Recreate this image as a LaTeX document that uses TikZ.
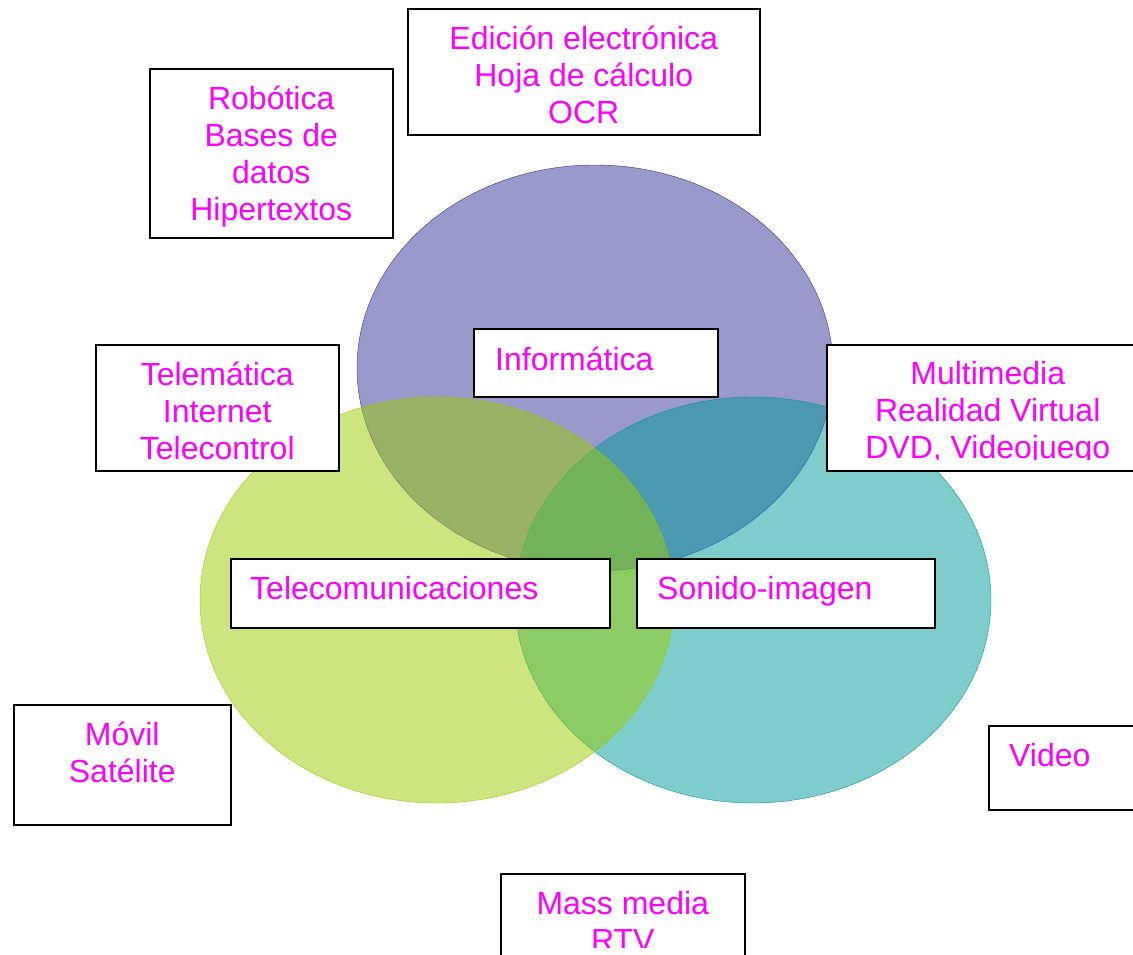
\documentclass[tikz,border=0pt]{standalone}
\usepackage{fontspec}
\setmainfont{Liberation Sans}
\usepackage{xcolor}
\definecolor{morado}{HTML}{333399}
\definecolor{verde}{HTML}{99CC00}
\definecolor{turquesa}{HTML}{009999}
\definecolor{rosa}{HTML}{FF00FF}
\tikzset{
	caja/.style = {draw = black, line width = 1.5pt, fill = white, anchor = north west, inner sep = 0pt},
	texto/.style = {text = rosa, font = \fontsize{32}{37}\selectfont, align = center, inner sep = 0pt, anchor = base},
	textoizq/.style = {texto, anchor = base west}
}

\begin{document}
\begin{tikzpicture}[x=1pt,y=-1pt]
	\useasboundingbox (0,0) rectangle (1133,954);
	\clip (0,0) rectangle (1133,954);
	\begin{scope}
	% los tres campos
	\draw [fill = morado, fill opacity = 0.5, draw = morado, thin] (595,368) ellipse (238 and 203);
	\draw [fill = turquesa, fill opacity = 0.5, draw = turquesa, thin] (753,600) ellipse (238 and 203);
	\draw [fill = verde, fill opacity = 0.5, draw = verde, thin] (437,600) ellipse (237 and 203);
	\end{scope}
	% cajas
	\node [caja, minimum width = 352pt, minimum height = 126pt] (edicion) at (407,8) {};
	\node [caja, minimum width = 243pt, minimum height = 169pt] (robotica) at (149,68) {};
	\node [caja, minimum width = 244pt, minimum height = 68pt] (informatica) at (473,328) {};
	\node [caja, minimum width = 243pt, minimum height = 126pt] (telematica) at (95,344) {};
	\node [caja, minimum width = 324pt, minimum height = 126pt] (multimedia) at (826,344) {};
	\node [caja, minimum width = 379pt, minimum height = 69pt] (telecom) at (230,558) {};
	\node [caja, minimum width = 298pt, minimum height = 69pt] (sonido) at (636,558) {};
	\node [caja, minimum width = 217pt, minimum height = 120pt] (movil) at (13,704) {};
	\node [caja, minimum width = 200pt, minimum height = 84pt] (video) at (988,725) {};
	\node [caja, minimum width = 244pt, minimum height = 85pt] (massmedia) at (500,873) {};
	% textos (base = linea de abajo)
	\node [texto] (tedicion) at ([yshift=-115pt]edicion.north) {Edición electrónica\\Hoja de cálculo\\OCR};
	\node [texto] (trobotica) at ([yshift=-152pt]robotica.north) {Robótica\\Bases de\\datos\\Hipertextos};
	\node [textoizq] (tinformatica) at ([xshift=22pt,yshift=-42pt]informatica.north west) {Informática};
	\node [texto] (ttelematica) at ([yshift=-115pt]telematica.north) {Telemática\\Internet\\Telecontrol};
	\begin{scope}
	\clip (multimedia.north west) rectangle ([yshift=12pt]multimedia.south east);
	\node [texto] (tmultimedia) at ([xshift=-1pt,yshift=-114pt]multimedia.north) {Multimedia\\Realidad Virtual\\DVD, Videojuego};
	\end{scope}
	\node [textoizq] (ttelecom) at ([xshift=20pt,yshift=-41pt]telecom.north west) {Telecomunicaciones};
	\node [textoizq] (tsonido) at ([xshift=21pt,yshift=-41pt]sonido.north west) {Sonido-imagen};
	\node [texto] (tmovil) at ([yshift=-78pt]movil.north) {Móvil\\Satélite};
	\node [textoizq] (tvideo) at ([xshift=21pt,yshift=-41pt]video.north west) {Video};
	\begin{scope}
	\clip (massmedia.north west) rectangle ([yshift=12pt]massmedia.south east);
	\node [texto] (tmassmedia) at ([yshift=-78pt]massmedia.north) {Mass media\\RTV};
	\end{scope}
\end{tikzpicture}
\end{document}
